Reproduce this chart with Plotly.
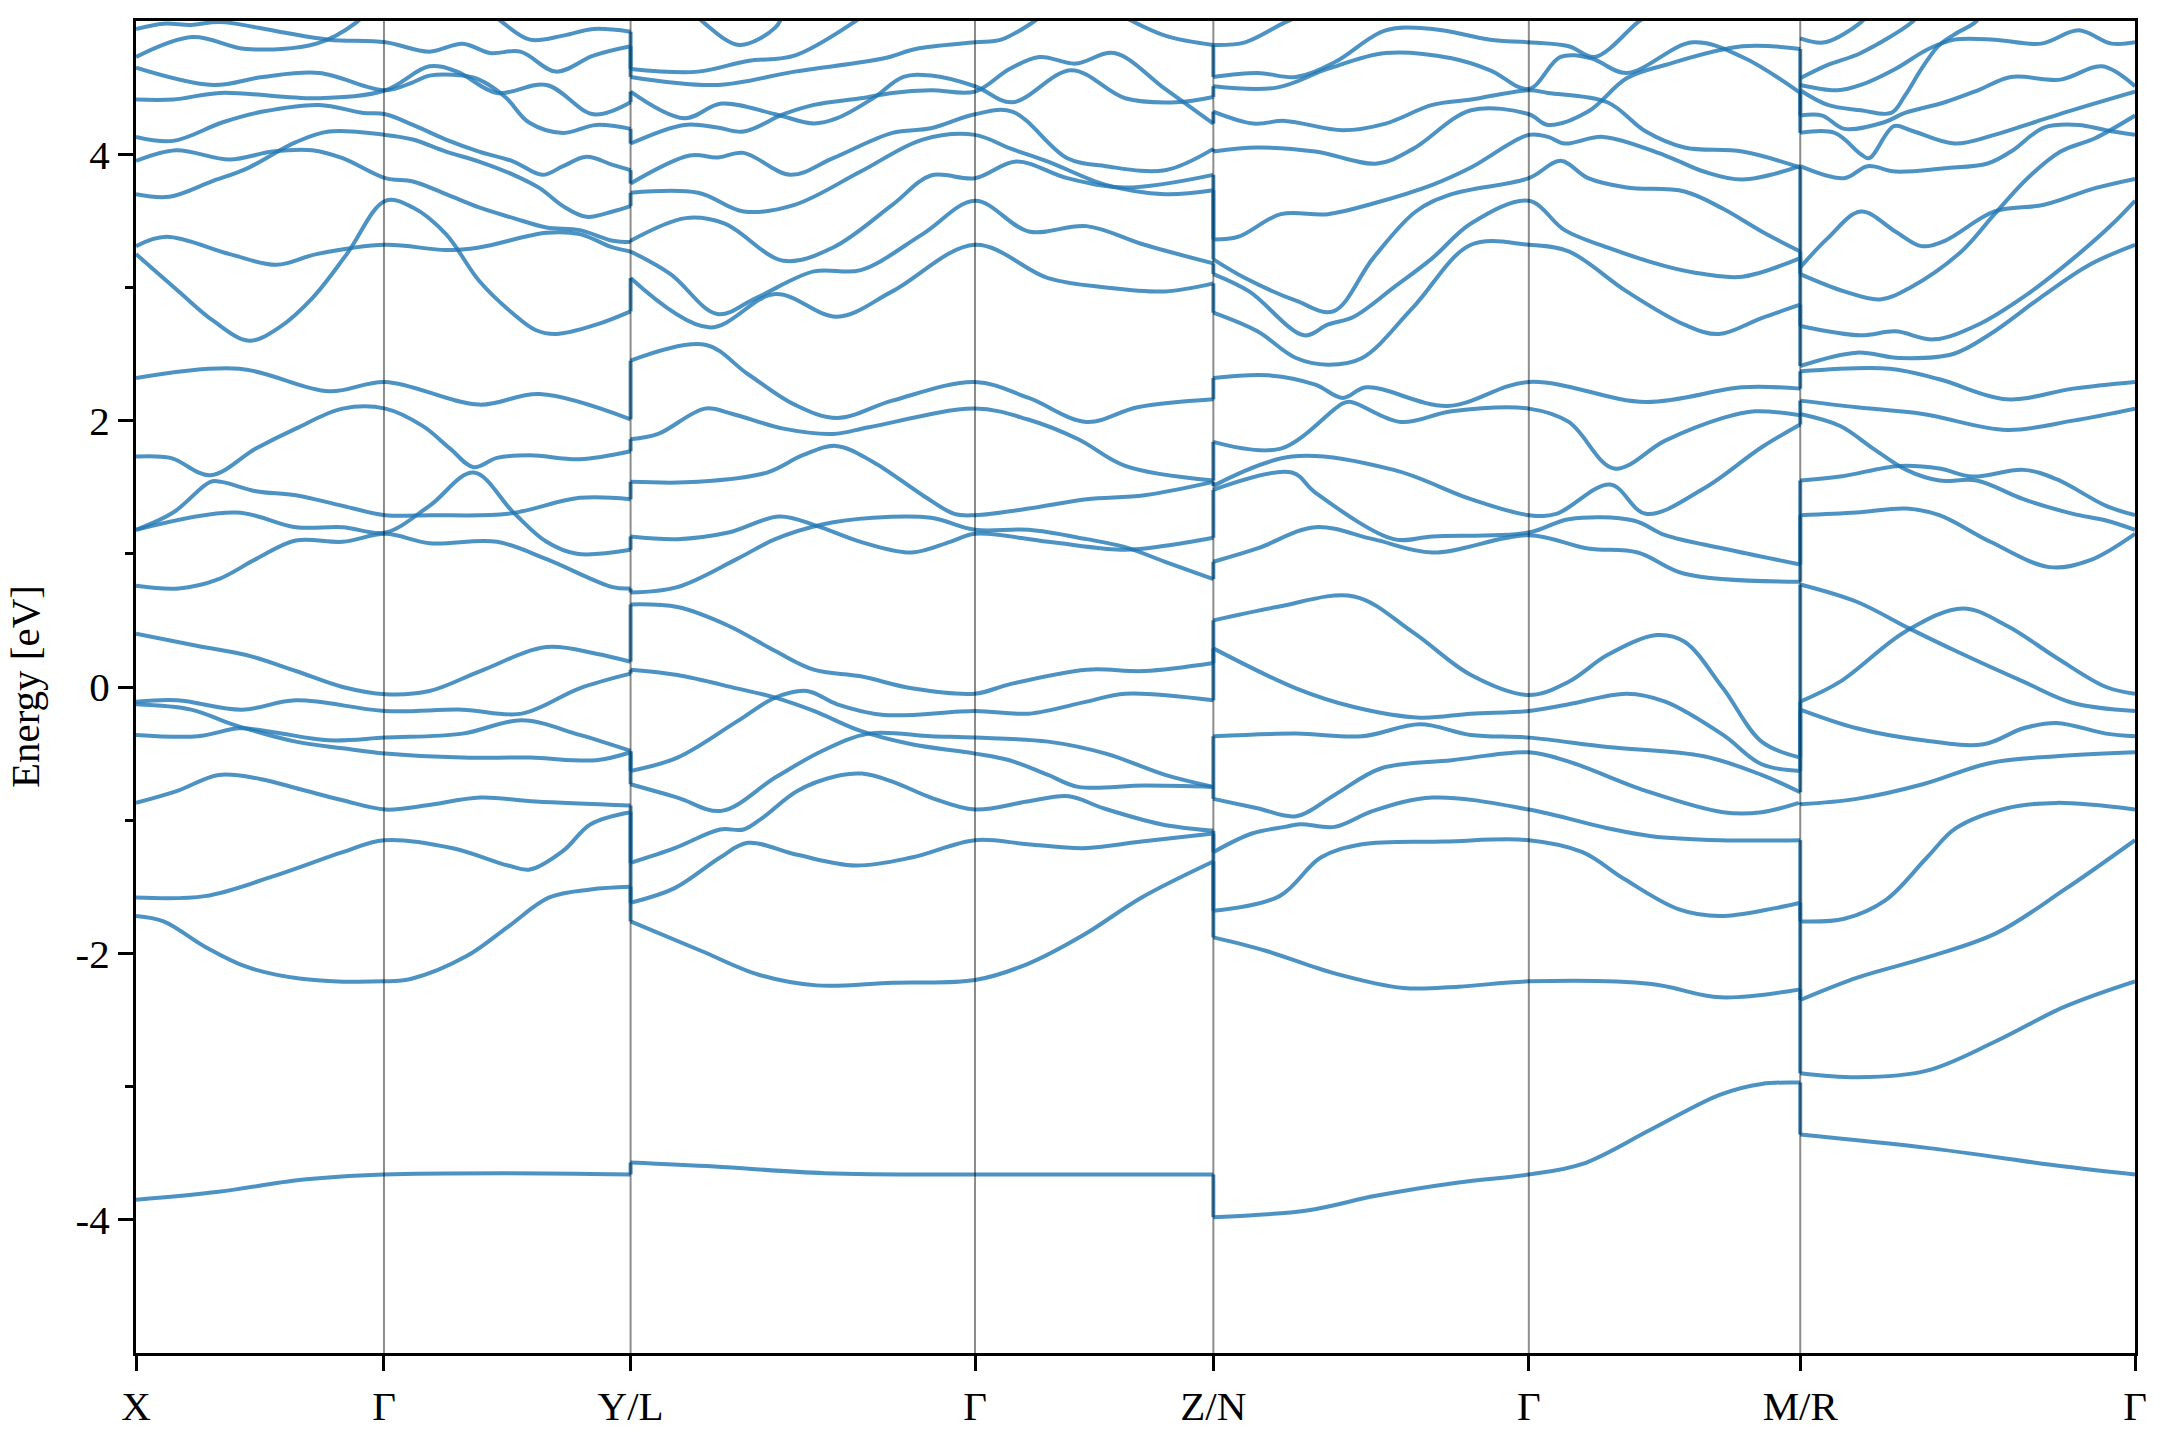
import plotly.graph_objects as go

# ---------------- data ----------------
K_TICKS = [0.0, 0.180, 0.359, 0.609, 0.782, 1.011, 1.208, 1.451]
K_LABELS = ["X", "Γ", "Y/L", "Γ", "Z/N", "Γ", "M/R", "Γ"]
E_RANGE = [-5, 5]
E_TICKS = [-4, -2, 0, 2, 4]
E_TICK_TEXT = ["-4", "-2", "0", "2", "4"]
E_MINOR = [-3, -1, 1, 3]
BREAKS = [0.359, 0.782, 1.208]

# bands along X - Gamma - Y   (k, E[eV])
PATH_X_Y = [
    [(0, -3.85), (0.06, -3.79), (0.12, -3.70), (0.18, -3.66), (0.27, -3.65), (0.359, -3.66)],
    [(0, -1.72), (0.02, -1.76), (0.05, -1.95), (0.08, -2.10), (0.12, -2.19), (0.18, -2.21), (0.20, -2.19), (0.24, -2.02), (0.27, -1.80), (0.30, -1.58), (0.33, -1.52), (0.359, -1.50)],
    [(0, -1.58), (0.05, -1.57), (0.10, -1.42), (0.15, -1.24), (0.18, -1.15), (0.23, -1.21), (0.27, -1.34), (0.286, -1.37), (0.31, -1.23), (0.33, -1.03), (0.359, -0.94)],
    [(0, -0.87), (0.03, -0.78), (0.06, -0.66), (0.09, -0.69), (0.12, -0.77), (0.15, -0.85), (0.181, -0.92), (0.21, -0.89), (0.25, -0.83), (0.29, -0.86), (0.359, -0.89)],
    [(0, -0.36), (0.045, -0.37), (0.075, -0.31), (0.10, -0.34), (0.14, -0.40), (0.181, -0.38), (0.237, -0.35), (0.28, -0.25), (0.322, -0.36), (0.359, -0.48)],
    [(0, -0.13), (0.04, -0.17), (0.07, -0.28), (0.116, -0.41), (0.15, -0.46), (0.181, -0.50), (0.237, -0.53), (0.286, -0.53), (0.334, -0.55), (0.359, -0.49)],
    [(0, -0.11), (0.03, -0.10), (0.077, -0.17), (0.116, -0.10), (0.181, -0.18), (0.237, -0.17), (0.28, -0.20), (0.322, -0.01), (0.359, 0.10)],
    [(0, 0.40), (0.044, 0.31), (0.08, 0.24), (0.116, 0.12), (0.15, 0.0), (0.181, -0.054), (0.213, -0.03), (0.25, 0.12), (0.298, 0.30), (0.334, 0.25), (0.359, 0.19)],
    [(0, 0.76), (0.031, 0.74), (0.06, 0.81), (0.087, 0.96), (0.116, 1.10), (0.15, 1.09), (0.181, 1.15), (0.213, 1.08), (0.262, 1.09), (0.298, 0.96), (0.346, 0.75), (0.359, 0.74)],
    [(0, 1.18), (0.073, 1.31), (0.116, 1.20), (0.150, 1.20), (0.181, 1.16), (0.213, 1.36), (0.245, 1.61), (0.274, 1.31), (0.298, 1.09), (0.32, 1.0), (0.359, 1.03)],
    [(0, 1.18), (0.027, 1.31), (0.054, 1.54), (0.062, 1.54), (0.087, 1.47), (0.116, 1.44), (0.150, 1.36), (0.181, 1.29), (0.213, 1.29), (0.27, 1.30), (0.322, 1.42), (0.359, 1.41)],
    [(0, 1.73), (0.025, 1.72), (0.054, 1.59), (0.087, 1.79), (0.116, 1.94), (0.15, 2.09), (0.181, 2.09), (0.208, 1.96), (0.228, 1.79), (0.245, 1.65), (0.262, 1.72), (0.286, 1.74), (0.322, 1.71), (0.359, 1.77)],
    [(0, 2.32), (0.075, 2.39), (0.140, 2.22), (0.181, 2.29), (0.249, 2.12), (0.293, 2.20), (0.359, 2.01)],
    [(0, 3.25), (0.031, 2.97), (0.056, 2.75), (0.082, 2.60), (0.104, 2.70), (0.128, 2.92), (0.153, 3.25), (0.181, 3.65), (0.201, 3.60), (0.225, 3.40), (0.249, 3.05), (0.274, 2.80), (0.290, 2.68), (0.305, 2.65), (0.334, 2.72), (0.359, 2.82)],
    [(0, 3.31), (0.022, 3.38), (0.068, 3.25), (0.102, 3.17), (0.131, 3.25), (0.181, 3.32), (0.225, 3.28), (0.249, 3.30), (0.298, 3.41), (0.322, 3.40), (0.346, 3.30), (0.359, 3.27)],
    [(0, 3.70), (0.024, 3.68), (0.056, 3.80), (0.080, 3.89), (0.116, 4.09), (0.140, 4.17), (0.181, 4.145), (0.201, 4.11), (0.225, 4.02), (0.249, 3.945), (0.274, 3.845), (0.293, 3.745), (0.310, 3.61), (0.327, 3.53), (0.346, 3.57), (0.359, 3.61)],
    [(0, 3.95), (0.029, 4.03), (0.068, 3.96), (0.099, 4.02), (0.128, 4.03), (0.150, 3.97), (0.181, 3.82), (0.201, 3.795), (0.225, 3.70), (0.249, 3.60), (0.274, 3.52), (0.298, 3.45), (0.322, 3.43), (0.346, 3.35), (0.359, 3.34)],
    [(0, 4.13), (0.027, 4.10), (0.063, 4.24), (0.092, 4.32), (0.133, 4.37), (0.165, 4.31), (0.181, 4.30), (0.201, 4.22), (0.225, 4.11), (0.249, 4.02), (0.274, 3.945), (0.295, 3.845), (0.310, 3.91), (0.327, 3.98), (0.346, 3.92), (0.359, 3.88)],
    [(0, 4.41), (0.027, 4.41), (0.061, 4.46), (0.133, 4.42), (0.181, 4.48), (0.213, 4.66), (0.233, 4.62), (0.262, 4.46), (0.298, 4.52), (0.332, 4.30), (0.359, 4.39)],
    [(0, 4.65), (0.056, 4.52), (0.092, 4.58), (0.133, 4.61), (0.181, 4.48), (0.201, 4.54), (0.213, 4.59), (0.237, 4.59), (0.249, 4.56), (0.268, 4.43), (0.285, 4.24), (0.310, 4.16), (0.334, 4.22), (0.359, 4.19)],
    [(0, 4.73), (0.041, 4.88), (0.080, 4.79), (0.131, 4.83), (0.160, 4.99), (0.17, 5.1)],
    [(0, 4.94), (0.02, 4.98), (0.04, 4.97), (0.055, 4.99), (0.065, 4.99), (0.104, 4.92), (0.140, 4.86), (0.181, 4.84), (0.213, 4.77), (0.237, 4.83), (0.257, 4.76), (0.279, 4.77), (0.305, 4.62), (0.332, 4.74), (0.359, 4.81)],
    [(0.258, 5.06), (0.266, 4.99), (0.286, 4.86), (0.310, 4.89), (0.332, 4.94), (0.359, 4.92)],
]

# bands along L - Gamma - Z
PATH_L_Z = [
    [(0.359, -3.57), (0.42, -3.60), (0.50, -3.65), (0.609, -3.66), (0.70, -3.66), (0.782, -3.66)],
    [(0.359, -1.76), (0.410, -1.98), (0.452, -2.16), (0.494, -2.24), (0.549, -2.22), (0.609, -2.20), (0.647, -2.08), (0.688, -1.86), (0.730, -1.58), (0.782, -1.31)],
    [(0.359, -1.62), (0.391, -1.51), (0.424, -1.28), (0.444, -1.17), (0.480, -1.26), (0.522, -1.34), (0.563, -1.28), (0.609, -1.15), (0.647, -1.18), (0.688, -1.21), (0.730, -1.16), (0.782, -1.10)],
    [(0.359, -1.32), (0.391, -1.21), (0.424, -1.07), (0.441, -1.07), (0.455, -0.98), (0.480, -0.78), (0.508, -0.67), (0.527, -0.65), (0.549, -0.71), (0.577, -0.83), (0.609, -0.92), (0.647, -0.86), (0.677, -0.82), (0.702, -0.91), (0.744, -1.03), (0.782, -1.08)],
    [(0.359, -0.73), (0.393, -0.83), (0.425, -0.93), (0.464, -0.68), (0.498, -0.48), (0.532, -0.35), (0.577, -0.37), (0.609, -0.38), (0.662, -0.41), (0.704, -0.50), (0.747, -0.66), (0.782, -0.75)],
    [(0.359, -0.63), (0.393, -0.53), (0.436, -0.26), (0.464, -0.08), (0.487, -0.03), (0.509, -0.13), (0.543, -0.21), (0.609, -0.18), (0.648, -0.20), (0.690, -0.11), (0.718, -0.05), (0.782, -0.10)],
    [(0.359, 0.13), (0.393, 0.09), (0.436, -0.01), (0.464, -0.08), (0.492, -0.18), (0.526, -0.33), (0.563, -0.43), (0.609, -0.50), (0.634, -0.55), (0.662, -0.66), (0.684, -0.75), (0.732, -0.74), (0.782, -0.75)],
    [(0.359, 0.62), (0.393, 0.60), (0.430, 0.46), (0.464, 0.27), (0.492, 0.13), (0.526, 0.08), (0.563, -0.01), (0.609, -0.05), (0.634, 0.02), (0.690, 0.13), (0.732, 0.12), (0.782, 0.18)],
    [(0.359, 0.71), (0.393, 0.75), (0.436, 0.96), (0.464, 1.11), (0.498, 1.22), (0.535, 1.27), (0.577, 1.27), (0.609, 1.18), (0.648, 1.18), (0.690, 1.11), (0.718, 1.05), (0.747, 0.94), (0.782, 0.81)],
    [(0.359, 1.13), (0.393, 1.11), (0.430, 1.16), (0.467, 1.28), (0.494, 1.21), (0.526, 1.09), (0.563, 1.01), (0.591, 1.09), (0.609, 1.15), (0.662, 1.09), (0.718, 1.03), (0.747, 1.06), (0.782, 1.12)],
    [(0.359, 1.54), (0.408, 1.54), (0.458, 1.61), (0.484, 1.74), (0.508, 1.81), (0.535, 1.69), (0.571, 1.44), (0.594, 1.30), (0.609, 1.29), (0.648, 1.34), (0.690, 1.41), (0.732, 1.44), (0.782, 1.54)],
    [(0.359, 1.86), (0.379, 1.90), (0.413, 2.09), (0.433, 2.05), (0.470, 1.94), (0.506, 1.90), (0.532, 1.95), (0.609, 2.09), (0.647, 2.01), (0.684, 1.86), (0.718, 1.66), (0.782, 1.55)],
    [(0.359, 2.45), (0.413, 2.57), (0.444, 2.35), (0.478, 2.12), (0.509, 2.02), (0.549, 2.15), (0.609, 2.29), (0.648, 2.17), (0.690, 1.99), (0.727, 2.10), (0.782, 2.16)],
    [(0.359, 3.07), (0.416, 2.70), (0.464, 2.95), (0.509, 2.78), (0.549, 2.97), (0.609, 3.32), (0.662, 3.07), (0.704, 3.0), (0.747, 2.97), (0.782, 3.03)],
    [(0.359, 3.27), (0.388, 3.10), (0.422, 2.80), (0.450, 2.92), (0.492, 3.12), (0.526, 3.13), (0.571, 3.40), (0.609, 3.65), (0.648, 3.42), (0.690, 3.46), (0.732, 3.32), (0.782, 3.18)],
    [(0.359, 3.35), (0.399, 3.52), (0.427, 3.48), (0.470, 3.20), (0.506, 3.30), (0.549, 3.62), (0.577, 3.84), (0.609, 3.82), (0.639, 3.945), (0.676, 3.82), (0.718, 3.75), (0.782, 3.845)],
    [(0.359, 3.71), (0.408, 3.71), (0.441, 3.57), (0.478, 3.62), (0.526, 3.87), (0.571, 4.11), (0.609, 4.145), (0.634, 4.045), (0.662, 3.945), (0.704, 3.77), (0.747, 3.70), (0.782, 3.73)],
    [(0.359, 3.78), (0.402, 3.99), (0.422, 3.975), (0.441, 4.01), (0.475, 3.845), (0.506, 3.97), (0.549, 4.16), (0.577, 4.195), (0.609, 4.30), (0.636, 4.32), (0.676, 3.97), (0.704, 3.91), (0.747, 3.88), (0.782, 4.04)],
    [(0.359, 4.08), (0.398, 4.22), (0.422, 4.20), (0.441, 4.17), (0.470, 4.30), (0.492, 4.37), (0.526, 4.42), (0.549, 4.46), (0.577, 4.48), (0.609, 4.47), (0.634, 4.64), (0.656, 4.73), (0.682, 4.68), (0.710, 4.76), (0.747, 4.49), (0.782, 4.23)],
    [(0.359, 4.47), (0.398, 4.27), (0.425, 4.38), (0.464, 4.30), (0.492, 4.23), (0.509, 4.27), (0.535, 4.42), (0.557, 4.58), (0.577, 4.59), (0.609, 4.51), (0.636, 4.39), (0.679, 4.63), (0.718, 4.42), (0.755, 4.39), (0.782, 4.43)],
    [(0.359, 4.58), (0.422, 4.52), (0.478, 4.62), (0.543, 4.72), (0.566, 4.79), (0.609, 4.84), (0.628, 4.86), (0.651, 4.99), (0.66, 5.06)],
    [(0.359, 4.64), (0.408, 4.62), (0.444, 4.70), (0.478, 4.74), (0.521, 4.99), (0.53, 5.06)],
    [(0.405, 5.06), (0.413, 4.98), (0.438, 4.82), (0.464, 4.95), (0.47, 5.06)],
    [(0.712, 5.06), (0.747, 4.89), (0.782, 4.82)],
]

# bands along N - Gamma - M
PATH_N_M = [
    [(0.782, -3.98), (0.85, -3.93), (0.90, -3.82), (0.96, -3.72), (1.011, -3.66), (1.05, -3.58), (1.10, -3.32), (1.15, -3.06), (1.18, -2.98), (1.208, -2.97)],
    [(0.782, -1.88), (0.82, -1.98), (0.87, -2.15), (0.92, -2.26), (0.96, -2.25), (1.011, -2.21), (1.10, -2.23), (1.15, -2.33), (1.208, -2.27)],
    [(0.782, -1.68), (0.83, -1.57), (0.86, -1.28), (0.89, -1.18), (0.95, -1.16), (1.011, -1.15), (1.05, -1.24), (1.08, -1.44), (1.12, -1.67), (1.15, -1.72), (1.19, -1.66), (1.208, -1.62)],
    [(0.782, -1.24), (0.81, -1.10), (0.834, -1.05), (0.845, -1.03), (0.870, -1.05), (0.898, -0.93), (0.941, -0.83), (1.011, -0.92), (1.068, -1.06), (1.10, -1.12), (1.15, -1.15), (1.208, -1.15)],
    [(0.782, -0.84), (0.814, -0.91), (0.842, -0.97), (0.870, -0.81), (0.904, -0.61), (0.955, -0.55), (1.011, -0.49), (1.040, -0.56), (1.096, -0.78), (1.152, -0.94), (1.180, -0.94), (1.207, -0.87)],
    [(0.782, -0.37), (0.842, -0.35), (0.890, -0.37), (0.932, -0.28), (0.969, -0.36), (1.011, -0.38), (1.068, -0.45), (1.138, -0.52), (1.180, -0.66), (1.208, -0.79)],
    [(0.782, 0.29), (0.842, -0.01), (0.884, -0.15), (0.932, -0.23), (0.969, -0.20), (1.011, -0.18), (1.040, -0.13), (1.082, -0.05), (1.110, -0.11), (1.152, -0.36), (1.180, -0.58), (1.208, -0.63)],
    [(0.782, 0.50), (0.828, 0.60), (0.884, 0.68), (0.927, 0.41), (0.969, 0.09), (1.011, -0.06), (1.040, 0.04), (1.068, 0.24), (1.104, 0.39), (1.124, 0.34), (1.152, -0.01), (1.180, -0.41), (1.208, -0.53)],
    [(0.782, 0.94), (0.814, 1.04), (0.856, 1.20), (0.898, 1.11), (0.941, 1.01), (1.011, 1.14), (1.054, 1.04), (1.090, 1.01), (1.124, 0.85), (1.208, 0.79)],
    [(0.782, 1.48), (0.839, 1.61), (0.856, 1.46), (0.913, 1.11), (0.941, 1.13), (1.011, 1.16), (1.040, 1.26), (1.087, 1.25), (1.110, 1.14), (1.152, 1.04), (1.208, 0.92)],
    [(0.782, 1.51), (0.839, 1.73), (0.913, 1.63), (0.969, 1.41), (1.011, 1.29), (1.031, 1.30), (1.070, 1.52), (1.096, 1.30), (1.138, 1.49), (1.180, 1.80), (1.208, 1.97)],
    [(0.782, 1.84), (0.831, 1.79), (0.876, 2.13), (0.882, 2.14), (0.918, 1.99), (0.955, 2.07), (1.011, 2.09), (1.040, 1.99), (1.073, 1.64), (1.110, 1.85), (1.152, 2.02), (1.175, 2.07), (1.208, 2.04)],
    [(0.782, 2.32), (0.822, 2.34), (0.856, 2.27), (0.876, 2.17), (0.893, 2.25), (0.952, 2.11), (1.011, 2.29), (1.096, 2.14), (1.166, 2.25), (1.208, 2.24)],
    [(0.782, 2.81), (0.814, 2.67), (0.842, 2.47), (0.865, 2.42), (0.890, 2.47), (0.927, 2.85), (0.969, 3.32), (1.011, 3.32), (1.040, 3.27), (1.082, 2.97), (1.124, 2.72), (1.149, 2.65), (1.180, 2.77), (1.208, 2.87)],
    [(0.782, 3.10), (0.808, 2.97), (0.848, 2.64), (0.865, 2.72), (0.884, 2.78), (0.913, 3.0), (0.941, 3.22), (0.969, 3.48), (1.011, 3.65), (1.037, 3.43), (1.068, 3.30), (1.110, 3.16), (1.138, 3.10), (1.166, 3.08), (1.208, 3.22)],
    [(0.782, 3.21), (0.805, 3.07), (0.842, 2.90), (0.869, 2.82), (0.898, 3.22), (0.929, 3.57), (0.955, 3.70), (1.011, 3.82), (1.034, 3.95), (1.054, 3.82), (1.082, 3.75), (1.124, 3.72), (1.152, 3.59), (1.180, 3.42), (1.208, 3.27)],
    [(0.782, 3.36), (0.800, 3.38), (0.831, 3.55), (0.865, 3.55), (0.898, 3.63), (0.941, 3.77), (0.969, 3.90), (1.011, 4.145), (1.025, 4.13), (1.037, 4.08), (1.065, 4.13), (1.110, 3.99), (1.138, 3.87), (1.166, 3.81), (1.208, 3.91)],
    [(0.782, 4.02), (0.814, 4.05), (0.856, 4.02), (0.901, 3.93), (0.927, 4.04), (0.969, 4.33), (1.011, 4.30), (1.025, 4.22), (1.054, 4.32), (1.082, 4.57), (1.110, 4.67), (1.166, 4.81), (1.208, 4.79)],
    [(0.782, 4.32), (0.811, 4.23), (0.834, 4.25), (0.876, 4.18), (0.907, 4.23), (0.941, 4.37), (0.969, 4.41), (1.011, 4.48), (1.025, 4.46), (1.068, 4.39), (1.096, 4.17), (1.124, 4.05), (1.166, 4.02), (1.208, 3.90)],
    [(0.782, 4.51), (0.828, 4.50), (0.865, 4.64), (0.907, 4.76), (0.955, 4.72), (0.983, 4.63), (1.011, 4.49), (1.034, 4.73), (1.056, 4.72), (1.082, 4.61), (1.130, 4.84), (1.166, 4.73), (1.208, 4.46)],
    [(0.782, 4.58), (0.814, 4.61), (0.842, 4.58), (0.870, 4.69), (0.907, 4.93), (0.941, 4.94), (0.983, 4.86), (1.011, 4.84), (1.040, 4.81), (1.059, 4.73), (1.090, 4.99), (1.10, 5.06)],
    [(0.782, 4.82), (0.805, 4.84), (0.834, 4.99), (0.85, 5.06)],
]

# bands along R - Gamma
PATH_R_G = [
    [(1.208, -3.36), (1.30, -3.46), (1.40, -3.60), (1.451, -3.66)],
    [(1.208, -2.90), (1.25, -2.93), (1.30, -2.88), (1.35, -2.66), (1.40, -2.40), (1.451, -2.21)],
    [(1.208, -2.35), (1.25, -2.18), (1.30, -2.03), (1.35, -1.85), (1.40, -1.52), (1.451, -1.15)],
    [(1.208, -1.76), (1.24, -1.74), (1.27, -1.60), (1.30, -1.28), (1.321, -1.06), (1.358, -0.91), (1.394, -0.87), (1.451, -0.92)],
    [(1.208, -0.88), (1.249, -0.84), (1.297, -0.73), (1.346, -0.57), (1.394, -0.52), (1.451, -0.49)],
    [(1.208, -0.17), (1.249, -0.31), (1.297, -0.40), (1.341, -0.43), (1.370, -0.31), (1.394, -0.27), (1.430, -0.35), (1.451, -0.37)],
    [(1.208, -0.11), (1.237, 0.04), (1.285, 0.42), (1.326, 0.59), (1.358, 0.46), (1.394, 0.22), (1.430, 0.0), (1.451, -0.05)],
    [(1.208, 0.77), (1.249, 0.64), (1.287, 0.44), (1.321, 0.27), (1.370, 0.04), (1.406, -0.12), (1.451, -0.18)],
    [(1.208, 1.29), (1.249, 1.31), (1.285, 1.34), (1.309, 1.29), (1.346, 1.09), (1.389, 0.90), (1.418, 0.95), (1.451, 1.15)],
    [(1.208, 1.55), (1.237, 1.58), (1.280, 1.66), (1.309, 1.64), (1.333, 1.58), (1.370, 1.63), (1.394, 1.56), (1.430, 1.36), (1.451, 1.29)],
    [(1.208, 2.05), (1.237, 1.96), (1.261, 1.79), (1.285, 1.63), (1.309, 1.55), (1.336, 1.55), (1.370, 1.41), (1.406, 1.30), (1.430, 1.25), (1.451, 1.18)],
    [(1.208, 2.15), (1.249, 2.10), (1.297, 2.05), (1.358, 1.93), (1.406, 2.0), (1.451, 2.09)],
    [(1.208, 2.37), (1.273, 2.39), (1.309, 2.31), (1.358, 2.16), (1.406, 2.24), (1.451, 2.29)],
    [(1.208, 2.41), (1.249, 2.51), (1.280, 2.47), (1.319, 2.50), (1.346, 2.65), (1.382, 2.92), (1.418, 3.17), (1.451, 3.32)],
    [(1.208, 2.71), (1.252, 2.64), (1.277, 2.67), (1.305, 2.61), (1.337, 2.72), (1.373, 2.95), (1.410, 3.25), (1.434, 3.47), (1.451, 3.65)],
    [(1.208, 3.10), (1.240, 2.97), (1.266, 2.91), (1.288, 3.0), (1.325, 3.27), (1.349, 3.55), (1.373, 3.82), (1.397, 4.02), (1.422, 4.12), (1.451, 4.29)],
    [(1.208, 3.15), (1.228, 3.37), (1.252, 3.57), (1.277, 3.42), (1.296, 3.31), (1.313, 3.35), (1.349, 3.57), (1.385, 3.62), (1.422, 3.745), (1.451, 3.815)],
    [(1.208, 3.91), (1.240, 3.82), (1.257, 3.91), (1.277, 3.87), (1.313, 3.895), (1.344, 3.93), (1.361, 4.02), (1.385, 4.20), (1.410, 4.22), (1.430, 4.18), (1.451, 4.145)],
    [(1.208, 4.16), (1.233, 4.16), (1.252, 4.0), (1.258, 3.97), (1.276, 4.21), (1.288, 4.18), (1.320, 4.08), (1.349, 4.145), (1.378, 4.24), (1.402, 4.32), (1.451, 4.47)],
    [(1.208, 4.29), (1.224, 4.29), (1.240, 4.19), (1.269, 4.24), (1.284, 4.31), (1.313, 4.39), (1.337, 4.48), (1.361, 4.58), (1.397, 4.56), (1.427, 4.66), (1.451, 4.51)],
    [(1.208, 4.48), (1.228, 4.37), (1.252, 4.33), (1.274, 4.31), (1.284, 4.44), (1.296, 4.64), (1.308, 4.81), (1.320, 4.90), (1.335, 4.99), (1.34, 5.06)],
    [(1.208, 4.52), (1.235, 4.48), (1.252, 4.52), (1.277, 4.64), (1.301, 4.79), (1.320, 4.86), (1.349, 4.86), (1.383, 4.83), (1.410, 4.93), (1.434, 4.83), (1.451, 4.84)],
    [(1.208, 4.57), (1.228, 4.67), (1.252, 4.76), (1.289, 4.99), (1.295, 5.06)],
    [(1.208, 4.87), (1.226, 4.84), (1.252, 4.99), (1.258, 5.06)],
]

PIECES = [PATH_X_Y, PATH_L_Z, PATH_N_M, PATH_R_G]

# ---------------- style ----------------
BAND_COLOR = "rgba(31,119,180,0.8)"
BAND_WIDTH = 4
FONT = "Liberation Serif, Times New Roman, serif"

fig = go.Figure()

for piece in PIECES:
    for band in piece:
        fig.add_trace(go.Scatter(
            x=[p[0] for p in band], y=[p[1] for p in band], mode="lines",
            line=dict(color=BAND_COLOR, width=BAND_WIDTH, shape="spline", smoothing=1.0),
            hoverinfo="skip", showlegend=False))

# discontinuities at Y/L, Z/N, M/R: connect sorted band ends to sorted band starts
for kb, left, right in zip(BREAKS, PIECES[:-1], PIECES[1:]):
    ends = sorted(b[-1][1] for b in left if abs(b[-1][0] - kb) < 2e-3)
    starts = sorted(b[0][1] for b in right if abs(b[0][0] - kb) < 2e-3)
    for e1, e2 in zip(ends, starts):
        fig.add_trace(go.Scatter(
            x=[kb, kb], y=[e1, e2], mode="lines",
            line=dict(color=BAND_COLOR, width=BAND_WIDTH),
            hoverinfo="skip", showlegend=False))

for k in K_TICKS[1:-1]:
    fig.add_shape(type="line", xref="x", yref="y", x0=k, x1=k, y0=E_RANGE[0], y1=E_RANGE[1],
                  line=dict(color="rgba(0,0,0,0.45)", width=2), layer="above")

axis_common = dict(showline=True, linecolor="black", linewidth=3.3, mirror=True,
                   ticks="outside", ticklen=15, tickwidth=3.3, tickcolor="black",
                   showgrid=False, zeroline=False,
                   tickfont=dict(family=FONT, size=41, color="black"))

fig.update_xaxes(range=[K_TICKS[0], K_TICKS[-1]], tickmode="array",
                 tickvals=K_TICKS, ticktext=K_LABELS, **axis_common)
fig.update_yaxes(range=E_RANGE, tickmode="array", tickvals=E_TICKS, ticktext=E_TICK_TEXT,
                 minor=dict(tickmode="array", tickvals=E_MINOR, ticks="outside", ticklen=8,
                            tickwidth=2.5, tickcolor="black"),
                 **axis_common)

fig.add_annotation(text="Energy [eV]", xref="paper", yref="paper", x=-0.0555, y=0.5,
                   textangle=-90, showarrow=False, xanchor="center", yanchor="middle",
                   font=dict(family=FONT, size=41, color="black"))

fig.update_layout(width=2160, height=1440, plot_bgcolor="white", paper_bgcolor="white",
                  margin=dict(l=136, r=25, t=21, b=87), showlegend=False)

fig.write_html("out.html", config={"displayModeBar": False},
               post_script="document.body.style.margin='0';document.body.style.overflow='hidden';")
